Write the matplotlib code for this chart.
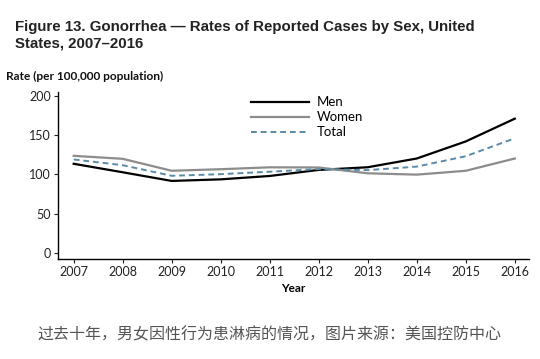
import numpy as np
import matplotlib.pyplot as plt

# data (rate per 100,000)
years = [2007, 2008, 2009, 2010, 2011, 2012, 2013, 2014, 2015, 2016]
men = [113.4, 102.6, 91.6, 93.6, 97.9, 105.6, 109.0, 120.1, 141.8, 170.7]
women = [123.5, 119.7, 104.5, 106.5, 108.9, 108.7, 101.3, 99.6, 104.5, 120.1]
total = [118.9, 111.6, 98.1, 100.2, 103.3, 106.7, 105.3, 109.8, 123.0, 145.8]
yticks = [0, 50, 100, 150, 200]

plt.rcParams["font.family"] = ["Lato", "DejaVu Sans"]

fig = plt.figure(figsize=(5.4, 3.59), dpi=100)
ax = fig.add_axes([58/540, 1 - 259/359, (529 - 58)/540, (259 - 92)/359])

ax.plot(years, men, color="black", lw=1.6, label="Men")
ax.plot(years, women, color="#8c8c8c", lw=1.6, label="Women")
ax.plot(years, total, color="#5b8aa6", lw=1.4, ls=(0, (3, 2)), label="Total")

ax.set_xlim(2006.68, 2016.29)
ax.set_ylim(-7.6, 204.6)
ax.set_xticks(years)
ax.set_yticks(yticks)
ax.tick_params(labelsize=9, length=3, width=0.8, colors="#222222", pad=2)
for s in ["top", "right"]:
    ax.spines[s].set_visible(False)
ax.spines["left"].set_linewidth(1.0)
ax.spines["bottom"].set_linewidth(1.0)

ax.set_xlabel("Year", fontsize=8.5, fontweight="bold", labelpad=4)

ax.legend(loc="upper left", bbox_to_anchor=(0.385, 1.045), frameon=False, fontsize=9.5,
          handlelength=4.4, handletextpad=0.6, labelspacing=0.22)

fig.text(15/540, 1 - 27/359, "Figure 13. Gonorrhea \u2014 Rates of Reported Cases by Sex, United",
         fontsize=10.8, fontweight="bold", family="Liberation Sans", va="center", color="#222222")
fig.text(15/540, 1 - 44/359, "States, 2007\u20132016",
         fontsize=10.8, fontweight="bold", family="Liberation Sans", va="center", color="#222222")
fig.text(6/540, 1 - 76/359, "Rate (per 100,000 population)",
         fontsize=8.6, fontweight="bold", va="center", color="#111111")

fig.text(37/540, 1 - 335/359, "过去十年，男女因性行为患淋病的情况，图片来源：美国控防中心",
         fontsize=11.5, family=["Noto Sans CJK SC", "DejaVu Sans"], va="center", color="#555555")

plt.savefig("out.png", dpi=100)
